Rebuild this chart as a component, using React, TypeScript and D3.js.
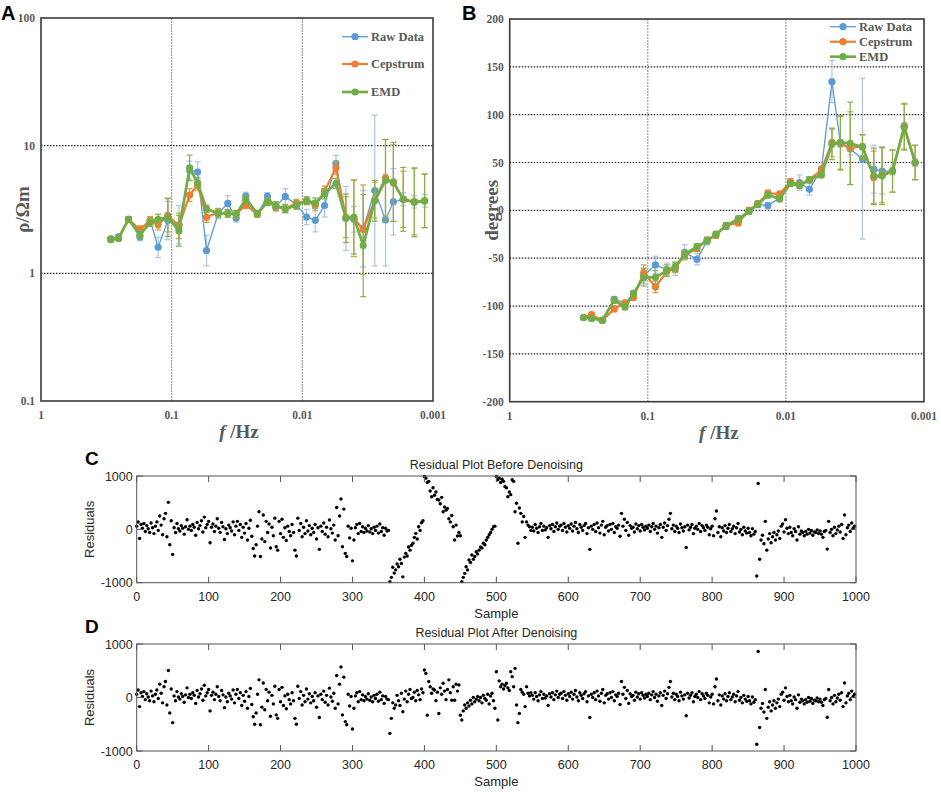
import React from 'react';
import * as d3 from 'd3';

// ---------- panel A / B : apparent resistivity and phase ----------
const freqs = [
  0.292, 0.255, 0.214, 0.175, 0.146, 0.127, 0.107, 0.088, 0.0729, 0.0633, 0.0541,
  0.044, 0.0372, 0.0321, 0.0271, 0.0221, 0.0185, 0.016, 0.0135, 0.0111, 0.00927,
  0.00796, 0.00676, 0.00553, 0.00464, 0.00403, 0.00342, 0.00279, 0.00231, 0.00201,
  0.00169, 0.00139, 0.00116,
];

const rhoRaw = [
  1.85, 1.93, 2.65, 1.93, 2.6, 1.6, 2.59, 2.4, 6.44, 6.22, 1.51, 2.95, 3.53, 2.7, 4.03,
  2.9, 4.0, 3.33, 4.0, 3.45, 2.76, 2.6, 3.4, 7.28, 2.7, 2.65, 2.24, 4.45, 2.62, 3.64,
  3.8, 3.64, 3.7,
];
const rhoCep = [
  1.85, 1.88, 2.65, 2.2, 2.6, 2.4, 2.85, 2.35, 4.1, 4.9, 2.75, 3.0, 2.95, 2.9, 3.45,
  2.9, 3.64, 3.33, 3.2, 3.55, 3.7, 3.4, 4.4, 6.7, 2.75, 2.7, 2.2, 3.75, 5.6, 5.1,
  3.8, 3.64, 3.7,
];
const rhoEmd = [
  1.85, 1.88, 2.65, 2.0, 2.5, 2.65, 2.75, 2.15, 6.7, 5.1, 3.2, 2.95, 2.95, 2.9, 3.8,
  2.95, 3.64, 3.4, 3.2, 3.4, 3.7, 3.55, 4.2, 5.07, 2.7, 2.76, 1.65, 3.7, 5.35, 5.2,
  3.8, 3.6, 3.7,
];
// error half-widths in decades
const rhoErrRaw = [
  0.02, 0.02, 0.02, 0.03, 0.03, 0.08, 0.15, 0.15, 0.07, 0.08, 0.12, 0.04, 0.06, 0.03,
  0.03, 0.02, 0.03, 0.04, 0.06, 0.03, 0.06, 0.09, 0.09, 0.06, 0.25, 0.1, 0.3, 0.59,
  0.36, 0.26, 0.05, 0.05, 0.05,
];
const rhoErrCep = [
  0.02, 0.02, 0.02, 0.03, 0.03, 0.04, 0.13, 0.1, 0.05, 0.04, 0.04, 0.03, 0.03, 0.03,
  0.03, 0.02, 0.03, 0.03, 0.03, 0.03, 0.03, 0.04, 0.04, 0.05, 0.16, 0.3, 0.35, 0.14,
  0.3, 0.3, 0.22, 0.26, 0.21,
];
const rhoErrEmd = [
  0.02, 0.02, 0.02, 0.03, 0.03, 0.04, 0.15, 0.12, 0.1, 0.04, 0.03, 0.03, 0.03, 0.03,
  0.03, 0.02, 0.03, 0.03, 0.03, 0.03, 0.03, 0.04, 0.04, 0.04, 0.19, 0.29, 0.4, 0.16,
  0.32, 0.31, 0.25, 0.27, 0.21,
];

const phaseRaw = [
  -112, -113, -115, -93, -97, -87, -68, -57, -62, -62, -44, -51, -32, -25, -17, -9, -1,
  6, 5, 13, 29, 29, 22, 43, 134.5, 70, 64, 54, 43, 41, 41, 88, 50,
];
const phaseCep = [
  -112, -109, -115, -103, -97, -91, -65, -80, -64, -60, -47, -40, -31, -26, -16, -13, 0,
  7, 18, 17, 30, 27, 32, 42, 71, 70, 65, 67, 34, 37, 41, 88, 50,
];
const phaseEmd = [
  -112, -113, -115, -94, -101, -87, -70, -70, -63, -59, -46, -38, -32, -25, -16, -9, -1,
  6, 16, 12, 28, 26, 32, 37, 69, 71, 70, 66, 36, 36, 41, 87, 50,
];
const phaseErrRaw = [
  2, 2, 2, 3, 3, 3, 8, 9, 7, 6, 8, 6, 4, 3, 3, 3, 3, 3, 3, 3, 3, 8, 6, 3, 22, 4, 6, 84,
  25, 24, 4, 4, 4,
];
const phaseErrCep = [
  2, 2, 2, 3, 3, 3, 8, 6, 5, 5, 4, 3, 3, 3, 3, 3, 3, 3, 3, 3, 3, 3, 3, 3, 15, 28, 38, 12,
  28, 29, 22, 24, 18,
];
const phaseErrEmd = [
  2, 2, 2, 3, 3, 3, 9, 7, 6, 5, 4, 3, 3, 3, 3, 3, 3, 3, 3, 3, 3, 3, 3, 3, 16, 28, 43, 13,
  29, 30, 22, 24, 18,
];

const seriesNames = ['Raw Data', 'Cepstrum', 'EMD'];
const freqTicks = [1, 0.1, 0.01, 0.001];
const freqTickLabels = ['1', '0.1', '0.01', '0.001'];
const rhoTicks = [0.1, 1, 10, 100];
const rhoTickLabels = ['0.1', '1', '10', '100'];
const phaseTicks = [-200, -150, -100, -50, 0, 50, 100, 150, 200];

// ---------- panel C / D : residuals (every 2nd sample) ----------
const residualHead = [
  60, 140, -170, 90, 20, 110, -40, 70, 10, -60,
  120, 30, -80, 60, 140, -20, 250, 80, -100, 200,
  300, -140, 506, -290, 160, -470, 30, -60, 110, 10,
  -30, 70, 20, -90, 50, 180, 0, 60, -20, 90,
  40, -110, 130, 10, 70, 160, -50, 230, 30, 90,
  150, -250, 40, 100, -40, 60, 200, 20, -60, 130,
  50, -190, 10, -80, 80, 30, -30, 140, -100, 60,
  150, -20, 90, -150, 40, -70, 110, -200, 20, 170,
  -130, -360, -500, -290, 60, 330, -510, -180, 270, -230,
  150, -60, 100, -350, 40, -120, 210, -325, -390, 150,
  -80, 190, -150, 30, -210, 60, -40, -120, 90, -60,
  -390, -500, 210, -20, 110, -140, 40, -80, 160, -30,
  70, -100, 20, -60, 90, -180, 30, -375, 60, -40,
  120, -90, 40, -140, 175, 10, -70, 80, -200, 410,
  -120, 250, 570, -325, 380, -450, -510, 60, -160, 20,
  -590, -200, 30, 90, -80, 110, -40, 50, -60, 20,
  -30, 70, -50, 10, -80, 40, -20, 60, -70, 100,
  -40, 30, -110, 20, -30,
];
const residualMidBefore = [
  -20, -980, -900, -710, -820, -760, -650, -700, -560, -640,
  -890, -520, -450, -500, -330, -390, -300, -260, -150, -75,
  -180, 50, -20, 125, 160, 990, 960, 880, 900, 720,
  610, 780, 640, 700, 560, 550, 480, 600, 330, 420,
  360, 390, 200, 140, 260, 50, -200, 80, -125, -60,
  -120, -980, -900, -825, -700, -760, -575, -620, -480, -560,
  -510, -420, -460, -390, -330, -350, -260, -290, -200, -150,
  -100, -60, 0, 50, 60, 990, 930, 960, 880, 940,
  900, 800, 780, 610, 700, 650, 930, 900, 330, 490,
  -260, 400, 300, 140, 240, -150, 140, 80, 50, -20,
];
const residualMidAfter = [
  -40, -670, -390, -100, -200, -140, 40, -60, -150, 80,
  -265, -30, 120, -80, 60, 150, -20, 0, 100, -60,
  130, 50, -40, 160, 90, 515, 450, -330, 300, 200,
  80, 160, 140, -60, 100, -300, 180, 60, 265, 120,
  -40, 150, 330, 90, -50, 200, -50, 250, 120, 235,
  -330, -420, -250, -140, -200, -100, -160, -50, -120, 0,
  -80, -30, 20, -60, 0, -100, 40, -20, -50, 60,
  -120, 30, 80, -60, -200, 480, -420, 310, 200, 250,
  160, 220, 265, 180, 130, 480, 390, 200, 545, -140,
  -470, -300, 150, 100, 60, -170, 200, 80, 30, 90,
];
const residualTail = [
  40, -30, 90, 20, -60, 50, 110, -20, 60, -10,
  30, -150, 70, 10, 90, -40, 50, 120, 0, 60,
  80, -20, 110, 40, -50, 70, 20, 100, -30, 60,
  130, 10, -60, 90, 40, -20, 70, 110, -80, 30,
  -375, 60, 0, 90, -40, 120, 30, -70, 80, 150,
  -100, 40, 70, -30, 90, 0, 110, -60, 50, 20,
  80, -130, 300, 60, 190, -20, 130, -110, 70, 20,
  40, -50, 100, 10, 70, -30, 90, 40, -10, 60,
  20, 80, -40, 50, 110, 0, 60, -70, 30, 90,
  -150, 40, 120, -20, 70, 190, 300, 10, 80, -40,
  60, 20, -60, 100, 30, -30, 50, -340, 80, -10,
  40, 90, -80, 20, 60, 0, 110, -40, 70, 30,
  -20, 80, 40, -100, 10, 60, -120, 200, 345, -60,
  50, -140, 30, -30, 70, -60, 20, 90, -40, 10,
  60, -80, 30, 110, -50, 0, -100, 40, -30, -70,
  20, -60, -120, 10, -90, -40, -875, 860, -560, -200,
  -110, -270, 150, -390, -180, -80, -250, -140, -60, -200,
  -100, -30, -170, 60, 100, -50, 180, 20, -80, 40,
  -60, -120, 10, -40, -200, 50, -90, -30, -60, -120,
  -40, -90, 0, -70, -20, -110, -50, -60, -10, -80,
  -30, -90, -150, -40, -20, -370, 150, -60, 0, -120,
  40, -80, -10, 60, -50, 90, -170, 270, -100, 30,
  80, -40, 120, 20, 60,
];
const sampleTicks = [0, 100, 200, 300, 400, 500, 600, 700, 800, 900, 1000];
const residualTicks = [-1000, 0, 1000];

const SERIF = '"Liberation Serif", "Times New Roman", serif';
const SANS = '"Liberation Sans", Arial, sans-serif';

const styles = [
  { color: '#5B9BD5', bar: '#a9c6e6', width: 1.3 },
  { color: '#ED7D31', bar: '#c9a53a', width: 2.2 },
  { color: '#70AD47', bar: '#86b04e', width: 2.7 },
];

type Box = { left: number; right: number; top: number; bottom: number };

const FrequencyPanel: React.FC<{
  box: Box;
  letter: string;
  letterX: number;
  yLog: boolean;
  values: number[][];
  errors: number[][];
  yTitle: string;
  legend: { x: number; ys: number[] };
}> = ({ box, letter, letterX, yLog, values, errors, yTitle, legend }) => {
  const x = d3.scaleLog().domain([1, 0.001]).range([box.left, box.right]);
  const y = yLog
    ? d3.scaleLog().domain([0.1, 100]).range([box.bottom, box.top])
    : d3.scaleLinear().domain([-200, 200]).range([box.bottom, box.top]);
  const yTicks = yLog ? rhoTicks : phaseTicks;
  const yLabels = yLog ? rhoTickLabels : phaseTicks.map(String);
  const hGrid = yLog ? [1, 10] : phaseTicks.slice(1, -1);
  const line = d3.line<number>().x((_, i) => x(freqs[i])).y(d => y(d));

  return (
    <g>
      <text x={letterX} y={20} fontFamily={SANS} fontWeight="bold" fontSize={20} fill="#000">{letter}</text>
      {[0.1, 0.01].map(f => (
        <line key={f} x1={x(f)} x2={x(f)} y1={box.top} y2={box.bottom} stroke="#8c8c8c" strokeWidth={1} strokeDasharray="2,1" />
      ))}
      {hGrid.map(v => (
        <line key={v} x1={box.left} x2={box.right} y1={y(v)} y2={y(v)} stroke="#222" strokeWidth={1.2} strokeDasharray="1.5,1.5" />
      ))}
      <rect x={box.left} y={box.top} width={box.right - box.left} height={box.bottom - box.top} fill="none" stroke="#3a3a3a" strokeWidth={1.6} />
      {yTicks.map((t, i) => (
        <text key={t} x={box.left - 6} y={y(t) + 4} textAnchor="end" fontFamily={SERIF} fontWeight="bold" fontSize={11.5} fill="#595959">{yLabels[i]}</text>
      ))}
      {freqTicks.map((t, i) => (
        <text key={t} x={x(t)} y={box.bottom + 18} textAnchor="middle" fontFamily={SERIF} fontWeight="bold" fontSize={11.5} fill="#595959">{freqTickLabels[i]}</text>
      ))}
      <text x={(box.left + box.right) / 2 + 2} y={box.bottom + 37} textAnchor="middle" fontFamily={SERIF} fontWeight="bold" fontSize={19} fill="#595959">
        <tspan fontStyle="italic">f</tspan> /Hz
      </text>
      <text transform={`translate(${box.left - 12},${(box.top + box.bottom) / 2}) rotate(-90)`} textAnchor="middle" fontFamily={SERIF} fontWeight="bold" fontSize={19} fill="#595959">{yTitle}</text>

      {values.map((vals, s) => (
        <g key={s}>
          {vals.map((v, i) => {
            const e = errors[s][i];
            const lo = yLog ? v / Math.pow(10, e) : v - e;
            const hi = yLog ? v * Math.pow(10, e) : v + e;
            const cx = x(freqs[i]);
            return (
              <g key={i} stroke={styles[s].bar} strokeWidth={1.2}>
                <line x1={cx} x2={cx} y1={y(lo)} y2={y(hi)} />
                <line x1={cx - 3} x2={cx + 3} y1={y(lo)} y2={y(lo)} />
                <line x1={cx - 3} x2={cx + 3} y1={y(hi)} y2={y(hi)} />
              </g>
            );
          })}
          <path d={line(vals) ?? ''} fill="none" stroke={styles[s].color} strokeWidth={styles[s].width} />
          {vals.map((v, i) => (
            <circle key={i} cx={x(freqs[i])} cy={y(v)} r={3.6} fill={styles[s].color} />
          ))}
        </g>
      ))}

      {seriesNames.map((n, s) => (
        <g key={n}>
          <line x1={legend.x} x2={legend.x + 26} y1={legend.ys[s]} y2={legend.ys[s]} stroke={styles[s].color} strokeWidth={styles[s].width} />
          <circle cx={legend.x + 13} cy={legend.ys[s]} r={3.6} fill={styles[s].color} />
          <text x={legend.x + 29} y={legend.ys[s] + 4} fontFamily={SERIF} fontWeight="bold" fontSize={12.5} fill="#595959">{n}</text>
        </g>
      ))}
    </g>
  );
};

const ResidualPanel: React.FC<{
  top: number;
  bottom: number;
  letter: string;
  title: string;
  mid: number[];
}> = ({ top, bottom, letter, title, mid }) => {
  const left = 136.7;
  const right = 856;
  const x = d3.scaleLinear().domain([0, 1000]).range([left, right]);
  const y = d3.scaleLinear().domain([-1000, 1000]).range([bottom, top]);
  const pts: [number, number][] = [
    ...residualHead.map((v, i) => [i * 2, v] as [number, number]),
    ...mid.map((v, i) => [350 + i * 2, v] as [number, number]),
    ...residualTail.map((v, i) => [550 + i * 2, v] as [number, number]),
  ];
  const cx = (left + right) / 2;
  return (
    <g>
      <text x={85} y={top - 11} fontFamily={SANS} fontWeight="bold" fontSize={19} fill="#000">{letter}</text>
      <text x={cx} y={top - 7} textAnchor="middle" fontFamily={SANS} fontSize={12.5} fill="#262626">{title}</text>
      {pts.map(([s, v], i) => (
        <circle key={i} cx={x(s)} cy={y(Math.max(-1000, Math.min(1000, v)))} r={1.7} fill="#000" />
      ))}
      <rect x={left} y={top} width={right - left} height={bottom - top} fill="none" stroke="#555" strokeWidth={1} />
      {sampleTicks.map(t => (
        <g key={t} stroke="#555" strokeWidth={1}>
          <line x1={x(t)} x2={x(t)} y1={bottom} y2={bottom - 6} />
          <line x1={x(t)} x2={x(t)} y1={top} y2={top + 6} />
        </g>
      ))}
      {residualTicks.map(t => (
        <g key={t} stroke="#555" strokeWidth={1}>
          <line x1={left} x2={left + 6} y1={y(t)} y2={y(t)} />
          <line x1={right} x2={right - 6} y1={y(t)} y2={y(t)} />
        </g>
      ))}
      {sampleTicks.map(t => (
        <text key={t} x={x(t)} y={bottom + 18} textAnchor="middle" fontFamily={SANS} fontSize={12.5} fill="#262626">{t}</text>
      ))}
      {residualTicks.map(t => (
        <text key={t} x={left - 4} y={y(t) + 4.5} textAnchor="end" fontFamily={SANS} fontSize={12.5} fill="#262626">{t}</text>
      ))}
      <text x={cx} y={bottom + 35} textAnchor="middle" fontFamily={SANS} fontSize={13} fill="#262626">Sample</text>
      <text transform={`translate(${94},${(top + bottom) / 2}) rotate(-90)`} textAnchor="middle" fontFamily={SANS} fontSize={13} fill="#262626">Residuals</text>
    </g>
  );
};

export default function App() {
  return (
    <svg width={941} height={792} style={{ position: 'absolute', left: 0, top: 0, background: '#fff' }}>
      <rect width={941} height={792} fill="#fff" />
      <FrequencyPanel
        box={{ left: 41, right: 433, top: 18, bottom: 401 }}
        letter="A"
        letterX={1}
        yLog={true}
        values={[rhoRaw, rhoCep, rhoEmd]}
        errors={[rhoErrRaw, rhoErrCep, rhoErrEmd]}
        yTitle="ρ/Ωm"
        legend={{ x: 342, ys: [36.7, 64, 92] }}
      />
      <FrequencyPanel
        box={{ left: 509.7, right: 924, top: 19, bottom: 401.7 }}
        letter="B"
        letterX={462}
        yLog={false}
        values={[phaseRaw, phaseCep, phaseEmd]}
        errors={[phaseErrRaw, phaseErrCep, phaseErrEmd]}
        yTitle="degrees"
        legend={{ x: 830, ys: [26.7, 41.7, 56.7] }}
      />
      <ResidualPanel top={476} bottom={582.7} letter="C" title="Residual Plot Before Denoising" mid={residualMidBefore} />
      <ResidualPanel top={644} bottom={751} letter="D" title="Residual Plot After Denoising" mid={residualMidAfter} />
    </svg>
  );
}
